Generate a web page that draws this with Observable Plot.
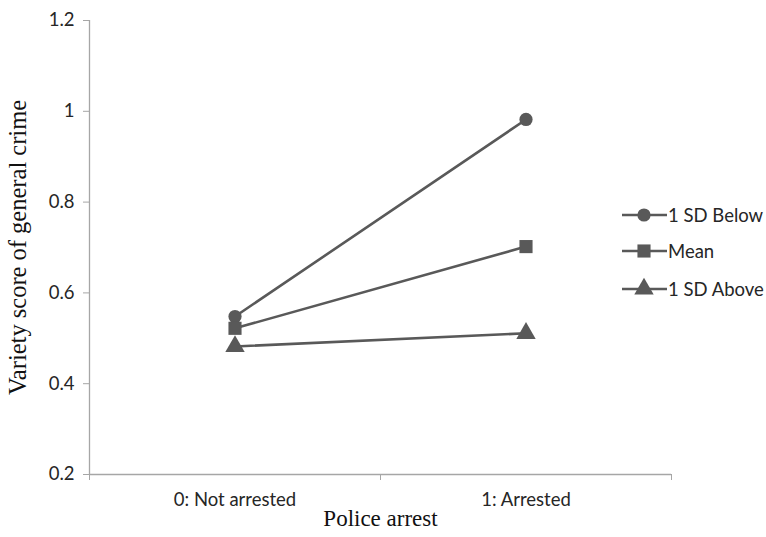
<!DOCTYPE html>
<html><head><meta charset="utf-8">
<script src="https://cdn.jsdelivr.net/npm/d3@7"></script>
<script src="https://cdn.jsdelivr.net/npm/@observablehq/plot@0.6"></script>
<style>
body{margin:0;background:#fff}
#wrap{position:relative;width:766px;height:537px}
#legend{position:absolute;left:620px;top:0;font-family:Lato,sans-serif;font-size:18.5px;color:#262626}
.row{position:absolute;left:0;display:flex;align-items:center;white-space:nowrap}
.row svg{display:block}
</style>
</head><body><div id="wrap"><div id="legend"></div></div>
<script>
const categories = ["0: Not arrested", "1: Arrested"];
const seriesNames = ["1 SD Below", "Mean", "1 SD Above"];
const below = [0.548, 0.982];
const mean = [0.522, 0.702];
const above = [0.482, 0.511];
const symbols = ["circle", "square", "triangle"];
const yTicks = [0.2, 0.4, 0.6, 0.8, 1, 1.2];
const xTitle = "Police arrest";
const yTitle = "Variety score of general crime";

const seriesValues = [below, mean, above];
const data = [];
seriesNames.forEach((s, si) => {
  seriesValues[si].forEach((v, ci) => {
    data.push({series: s, cat: categories[ci], xi: ci + 0.5, value: v, symbol: symbols[si]});
  });
});

const lineColor = "#595959";
const axisColor = "#a6a6a6";
const sizes = {"circle": 6.6, "square": 7.4, "triangle": 7.2};

const plot = Plot.plot({
  width: 766,
  height: 537,
  marginLeft: 89,
  marginRight: 95,
  marginTop: 20,
  marginBottom: 63,
  style: {fontFamily: "Lato, sans-serif", background: "#fff"},
  x: {domain: [0, categories.length]},
  y: {domain: [yTicks[0], yTicks[yTicks.length - 1]]},
  marks: [
    Plot.ruleX([0], {y1: yTicks[0], y2: yTicks[yTicks.length - 1], stroke: axisColor, strokeWidth: 1.3}),
    Plot.ruleY([yTicks[0]], {stroke: axisColor, strokeWidth: 1.3}),
    Plot.axisY({ticks: yTicks, tickSize: 6, tickPadding: 9, stroke: axisColor, fill: "#262626", fontSize: 18.5, tickFormat: d => String(d), label: null}),
    Plot.axisX({ticks: d3.range(categories.length + 1), tickSize: 6, stroke: axisColor, tickFormat: () => "", label: null}),
    Plot.axisX({ticks: categories.map((c, i) => i + 0.5), tickSize: 0, tickPadding: 18, fill: "#262626", fontSize: 18.5, tickFormat: d => categories[Math.floor(d)], label: null}),
    Plot.line(data, {x: "xi", y: "value", z: "series", stroke: lineColor, strokeWidth: 2.6}),
    ...symbols.map((sym, si) => Plot.dot(data.filter(d => d.series === seriesNames[si]), {x: "xi", y: "value", symbol: () => sym, r: sizes[sym], fill: lineColor, stroke: "none"})),
    Plot.text([yTitle], {frameAnchor: "left", dx: -71, rotate: -90, textAnchor: "middle", fontSize: 24.5, fontFamily: "Liberation Serif, serif", fill: "#111"}),
    Plot.text([xTitle], {frameAnchor: "bottom", dy: 51, textAnchor: "middle", fontSize: 23, fontFamily: "Liberation Serif, serif", fill: "#111"})
  ]
});
document.getElementById("wrap").prepend(plot);

// legend
const legend = document.getElementById("legend");
const rowY = [215, 251, 289];
seriesNames.forEach((s, si) => {
  const row = document.createElement("div");
  row.className = "row";
  row.style.top = (rowY[si] - 12) + "px";
  row.style.height = "24px";
  const svg = d3.create("svg").attr("width", 48).attr("height", 24);
  svg.append("line").attr("x1", 2).attr("x2", 47).attr("y1", 12).attr("y2", 12).attr("stroke", lineColor).attr("stroke-width", 2.6);
  const symMap = {circle: d3.symbolCircle, square: d3.symbolSquare, triangle: d3.symbolTriangle};
  const r = sizes[symbols[si]];
  svg.append("path").attr("transform", "translate(24,12)").attr("d", d3.symbol(symMap[symbols[si]], Math.PI * r * r)()).attr("fill", lineColor);
  row.appendChild(svg.node());
  const span = document.createElement("span");
  span.textContent = s;
  row.appendChild(span);
  legend.appendChild(row);
});
</script>
</body></html>
